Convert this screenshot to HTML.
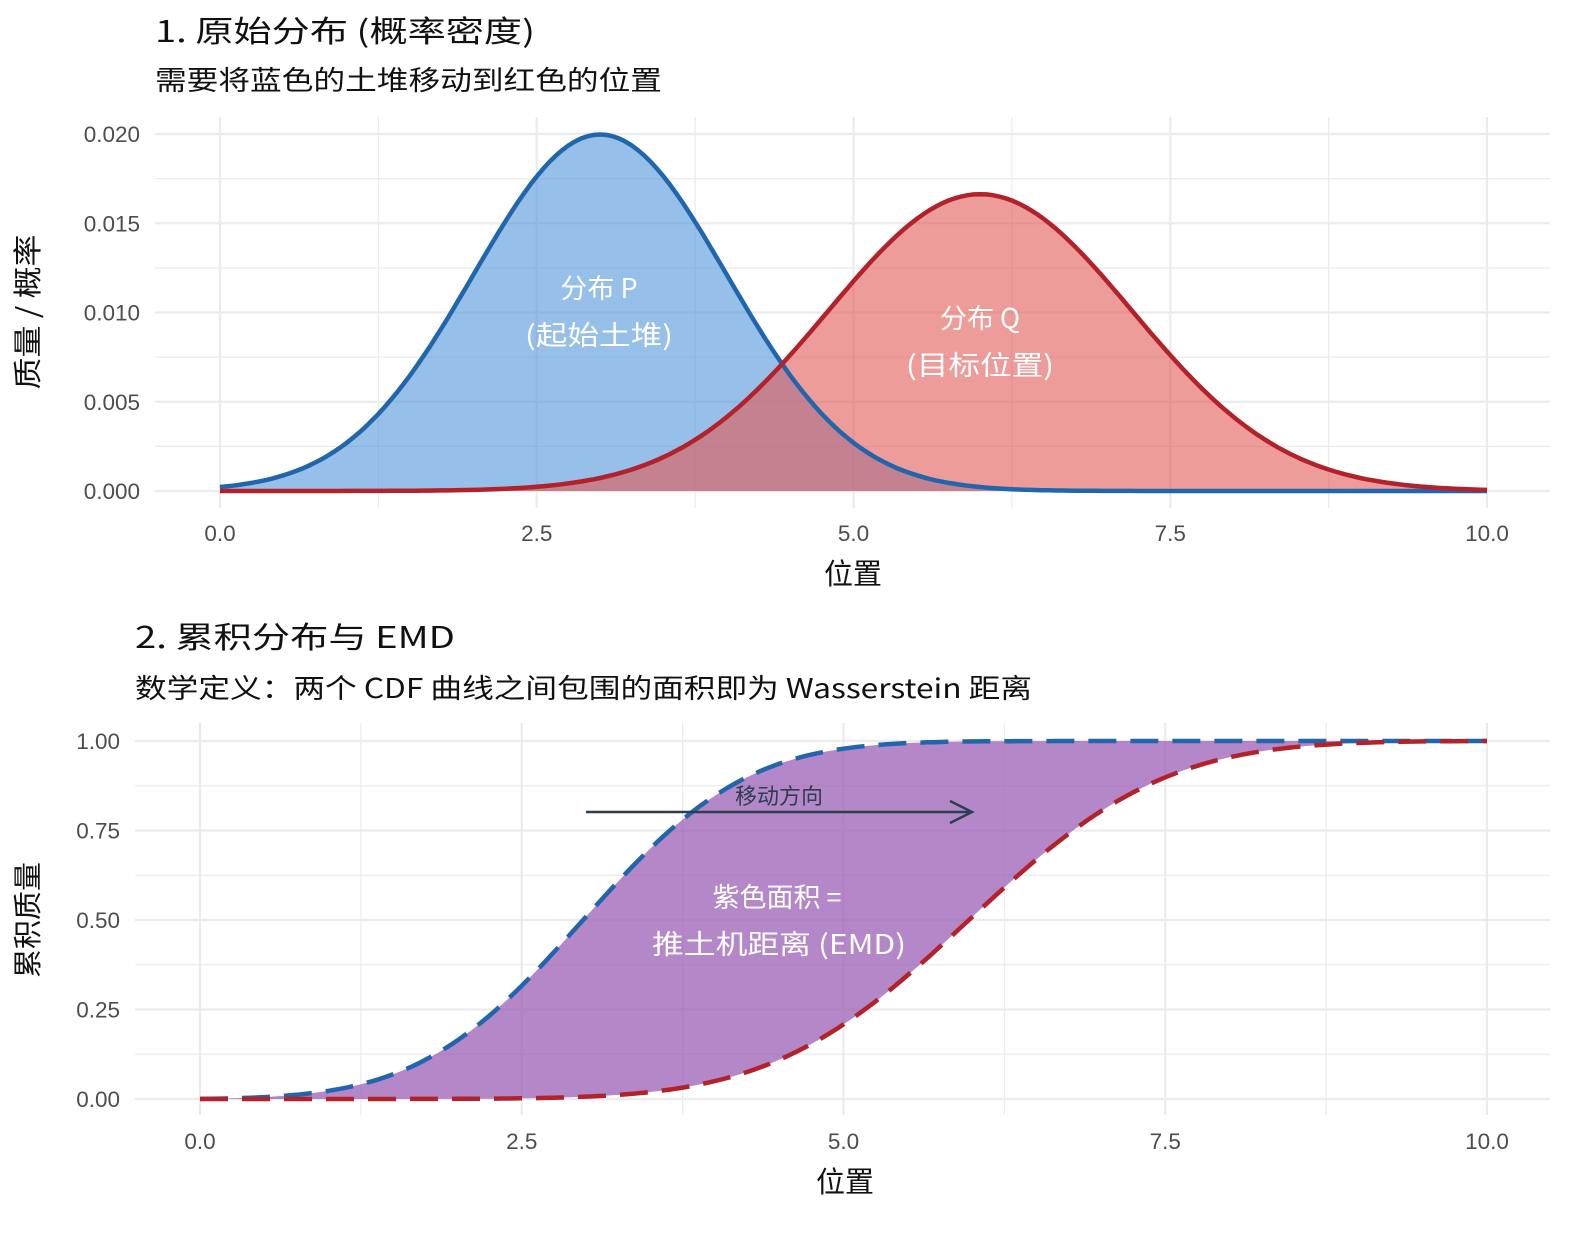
<!DOCTYPE html>
<html><head><meta charset="utf-8"><style>
body{margin:0;background:#fff}
svg text{font-family:"Noto Sans CJK SC","Liberation Sans",sans-serif}
svg #ticks text{font-family:"Liberation Sans",sans-serif}
</style></head><body>
<svg id="s" width="1588" height="1232" xmlns="http://www.w3.org/2000/svg">
<rect width="1588" height="1232" fill="#fff"/>
<g id="grid" stroke="#ebebeb" fill="none"></g>
<path id="bf" fill="#4a90d9" fill-opacity="0.58" stroke="none"/>
<path id="rf" fill="#e35a55" fill-opacity="0.6" stroke="none"/>
<path id="bl" fill="none" stroke="#2166ac" stroke-width="4.5"/>
<path id="rl" fill="none" stroke="#b2222b" stroke-width="4.5"/>
<path id="pf" fill="#9b5fb5" fill-opacity="0.75" stroke="none"/>
<path id="cb" fill="none" stroke="#2166ac" stroke-width="4.5" stroke-dasharray="28,14"/>
<path id="cr" fill="none" stroke="#b2222b" stroke-width="4.5" stroke-dasharray="28,14"/>
<g fill="#111" >
<text x="155" y="42" font-size="30" textLength="380" lengthAdjust="spacingAndGlyphs">1. 原始分布 (概率密度)</text>
<text x="155" y="90" font-size="27" textLength="507" lengthAdjust="spacingAndGlyphs">需要将蓝色的土堆移动到红色的位置</text>
<text x="135" y="648" font-size="30" textLength="320" lengthAdjust="spacingAndGlyphs">2. 累积分布与 EMD</text>
<text x="135" y="698" font-size="27" textLength="897" lengthAdjust="spacingAndGlyphs">数学定义：两个 CDF 曲线之间包围的面积即为 Wasserstein 距离</text>
<text x="853" y="584" font-size="29" text-anchor="middle">位置</text>
<text x="845" y="1192" font-size="29" text-anchor="middle">位置</text>
<text transform="translate(38,312) rotate(-90)" font-size="29" text-anchor="middle" textLength="155" lengthAdjust="spacingAndGlyphs">质量 / 概率</text>
<text transform="translate(38,920) rotate(-90)" font-size="29" text-anchor="middle">累积质量</text>
</g>
<g id="ticks" fill="#4d4d4d" font-size="22.5"></g>
<g fill="#fff" font-size="27" text-anchor="middle">
<text x="599" y="298">分布 P</text><text x="599" y="345" textLength="148" lengthAdjust="spacingAndGlyphs">(起始土堆)</text>
<text x="980" y="328">分布 Q</text><text x="980" y="375" textLength="148" lengthAdjust="spacingAndGlyphs">(目标位置)</text>
<text x="777" y="907">紫色面积 =</text><text x="779" y="954" textLength="254" lengthAdjust="spacingAndGlyphs">推土机距离 (EMD)</text>
</g>
<line x1="586" y1="812" x2="970" y2="812" stroke="#2c3e50" stroke-width="2.5"/>
<path d="M950,801 L972,812 L950,823" fill="none" stroke="#2c3e50" stroke-width="2.5"/>
<text x="779" y="804" font-size="22" fill="#2c3e50" text-anchor="middle">移动方向</text>
</svg>
<script>
const N='http://www.w3.org/2000/svg';
function el(p,t,a,txt){const e=document.createElementNS(N,t);for(const k in a)e.setAttribute(k,a[k]);if(txt!==undefined)e.textContent=txt;p.appendChild(e);return e;}
const g=document.getElementById('grid'),tk=document.getElementById('ticks');
const X1=v=>220+v*126.7, Y1=v=>491-v*17850;
for(let i=0;i<=8;i++){const x=X1(i*1.25);el(g,'line',{x1:x,x2:x,y1:117,y2:508,'stroke-width':i%2?1.2:2.2});}
for(let i=0;i<=9;i++){const y=Y1(i*0.0025);if(y<117)continue;el(g,'line',{x1:155,x2:1550,y1:y,y2:y,'stroke-width':i%2?1.2:2.2});}
['0.000','0.005','0.010','0.015','0.020'].forEach((t,i)=>el(tk,'text',{x:140,y:Y1(i*0.005)+8,'text-anchor':'end'},t));
['0.0','2.5','5.0','7.5','10.0'].forEach((t,i)=>el(tk,'text',{x:X1(i*2.5),y:541,'text-anchor':'middle'},t));
const X2=v=>200+v*128.7, Y2=v=>1099-v*358;
for(let i=0;i<=8;i++){const x=X2(i*1.25);el(g,'line',{x1:x,x2:x,y1:723,y2:1115,'stroke-width':i%2?1.2:2.2});}
for(let i=0;i<=8;i++){const y=Y2(i*0.125);el(g,'line',{x1:135,x2:1550,y1:y,y2:y,'stroke-width':i%2?1.2:2.2});}
['0.00','0.25','0.50','0.75','1.00'].forEach((t,i)=>el(tk,'text',{x:120,y:Y2(i*0.25)+8,'text-anchor':'end'},t));
['0.0','2.5','5.0','7.5','10.0'].forEach((t,i)=>el(tk,'text',{x:X2(i*2.5),y:1149,'text-anchor':'middle'},t));
const xs=[],b=[],r=[];
for(let i=0;i<=200;i++){const x=i*0.05;xs.push(x);b.push(Math.exp(-0.5*((x-3)/1)**2));r.push(Math.exp(-0.5*((x-6)/1.2)**2));}
const sb=b.reduce((a,c)=>a+c),sr=r.reduce((a,c)=>a+c);
const bp=b.map(v=>v/sb),rp=r.map(v=>v/sr);
let cb=[],cr=[],s1=0,s2=0;bp.forEach((v,i)=>{s1+=v;s2+=rp[i];cb.push(s1);cr.push(s2);});
const line=(arr,X,Y)=>arr.map((v,i)=>(i?'L':'M')+X(xs[i]).toFixed(1)+','+Y(v).toFixed(1)).join('');
const S=(id,d)=>document.getElementById(id).setAttribute('d',d);
S('bl',line(bp,X1,Y1));S('rl',line(rp,X1,Y1));
S('bf',line(bp,X1,Y1)+`L${X1(10)},${Y1(0)}L${X1(0)},${Y1(0)}Z`);
S('rf',line(rp,X1,Y1)+`L${X1(10)},${Y1(0)}L${X1(0)},${Y1(0)}Z`);
const cbl=line(cb,X2,Y2),crl=line(cr,X2,Y2);
S('cb',cbl);S('cr',crl);
let rev='';for(let i=200;i>=0;i--)rev+='L'+X2(xs[i]).toFixed(1)+','+Y2(cr[i]).toFixed(1);
S('pf',cbl+rev+'Z');
</script>
</body></html>
